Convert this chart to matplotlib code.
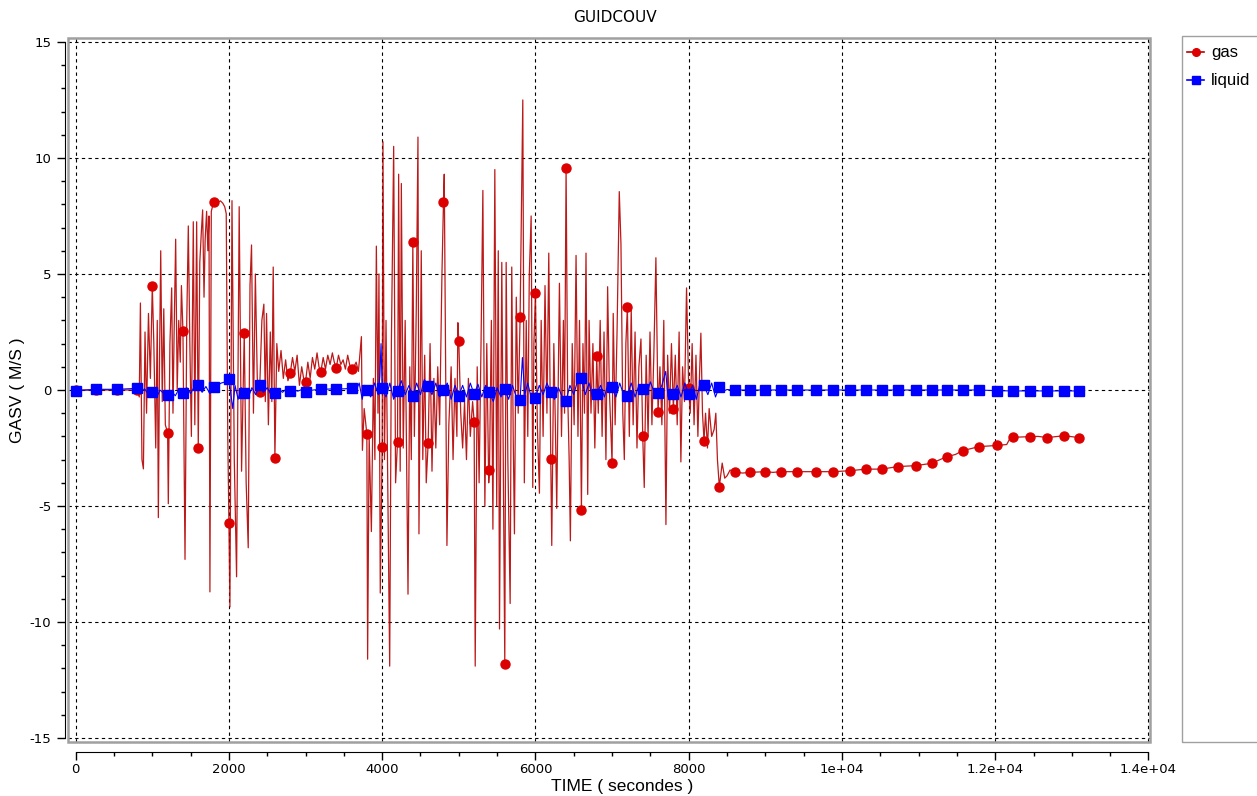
import matplotlib
matplotlib.use("Agg")
import matplotlib.pyplot as plt
from matplotlib.lines import Line2D
from matplotlib.patches import Rectangle
from matplotlib.ticker import MultipleLocator

plt.rcParams['axes.unicode_minus'] = False

# times (s) where the symbols are drawn on both curves
mark_t = [0, 270, 540, 800, 1000, 1200, 1400, 1600, 1800, 2000, 2200, 2400,
          2600, 2800, 3000, 3200, 3400, 3600, 3800, 4000, 4200, 4400, 4600,
          4800, 5000, 5200, 5400, 5600, 5800, 6000, 6200, 6400, 6600, 6800,
          7000, 7200, 7400, 7600, 7800, 8000, 8200, 8400, 8600, 8800, 9000,
          9200, 9410, 9660, 9880, 10100, 10310, 10520, 10730, 10960, 11170,
          11370, 11580, 11790, 12020, 12230, 12450, 12680, 12900, 13090]

# gas velocity (M/S)
gas_t = [0, 270, 540, 800, 830, 845, 865, 884, 905, 925, 950, 975, 1000, 1020,
         1045, 1065, 1079, 1095, 1110, 1130, 1150, 1170, 1200, 1209, 1230, 1253,
         1270, 1285, 1305, 1325, 1345, 1365, 1380, 1400, 1427, 1450, 1470, 1490,
         1510, 1535, 1555, 1579, 1600, 1620, 1640, 1657, 1675, 1690, 1709, 1725,
         1740, 1752, 1770, 1785, 1800, 1830, 1860, 1890, 1920, 1945, 1965, 1985,
         2000, 2013, 2040, 2070, 2100, 2134, 2165, 2200, 2225, 2252, 2275, 2295,
         2320, 2345, 2370, 2400, 2430, 2456, 2475, 2491, 2515, 2540, 2560, 2578,
         2600, 2625, 2650, 2680, 2710, 2740, 2770, 2800, 2830, 2860, 2890, 2920,
         2950, 2975, 3000, 3030, 3060, 3090, 3120, 3150, 3175, 3200, 3230, 3260,
         3290, 3320, 3350, 3375, 3400, 3430, 3460, 3490, 3520, 3550, 3575, 3600,
         3630, 3660, 3690, 3729, 3742, 3765, 3800, 3810, 3830, 3859, 3885, 3905,
         3924, 3945, 3958, 3975, 4000, 4010, 4030, 4050, 4075, 4098, 4120, 4150,
         4175, 4200, 4215, 4235, 4250, 4275, 4300, 4337, 4360, 4380, 4400, 4420,
         4445, 4467, 4480, 4510, 4530, 4555, 4575, 4600, 4625, 4650, 4675, 4700,
         4725, 4750, 4780, 4800, 4810, 4845, 4870, 4900, 4925, 4950, 4975, 4988,
         5000, 5025, 5050, 5075, 5100, 5125, 5150, 5180, 5200, 5214, 5240, 5265,
         5290, 5314, 5340, 5365, 5390, 5400, 5425, 5445, 5470, 5495, 5515, 5531,
         5561, 5580, 5600, 5618, 5640, 5670, 5691, 5710, 5726, 5750, 5775, 5800,
         5835, 5855, 5880, 5900, 5920, 5944, 5965, 5980, 6000, 6025, 6052, 6075,
         6100, 6125, 6150, 6174, 6200, 6213, 6240, 6260, 6278, 6300, 6313, 6340,
         6365, 6380, 6400, 6420, 6440, 6456, 6480, 6505, 6530, 6555, 6575, 6600,
         6620, 6640, 6660, 6682, 6700, 6725, 6750, 6775, 6800, 6820, 6845, 6870,
         6895, 6920, 6942, 6965, 7000, 7015, 7040, 7065, 7094, 7116, 7140, 7160,
         7180, 7200, 7225, 7250, 7275, 7300, 7325, 7350, 7377, 7400, 7420, 7445,
         7470, 7495, 7520, 7545, 7572, 7600, 7625, 7650, 7675, 7703, 7725, 7750,
         7775, 7800, 7825, 7850, 7875, 7898, 7920, 7945, 7972, 8000, 8020, 8045,
         8070, 8095, 8120, 8140, 8159, 8180, 8200, 8220, 8245, 8267, 8300, 8332,
         8354, 8375, 8400, 8437, 8470, 8500, 8540, 8600, 8700, 8800, 9000, 9100,
         9200, 9410, 9660, 9880, 10100, 10310, 10520, 10730, 10960, 11170, 11370,
         11480, 11580, 11790, 12020, 12150, 12190, 12230, 12450, 12560, 12680,
         12900, 13090]
gas_v = [0.0, 0.0, 0.0, 0.0, -0.3, 3.75, -3.0, -3.4, 2.5, -1.0, 3.3, 0.5, 4.5, 2.0,
         -2.5, 3.0, -5.5, 1.5, 6.0, -0.5, 3.5, -1.5, -1.84, -4.9, 2.0, 4.4,
         -1.0, 2.5, 6.5, 0.0, 3.0, 1.2, 4.5, 2.55, -7.3, 3.0, 7.07, 2.0,
         -2.0, 7.25, -1.5, 7.25, -2.49, 5.5, 6.8, 7.76, 4.0, 6.5, 7.7, 6.0,
         7.5, -8.7, 7.7, 7.9, 8.1, 8.05, 8.1, 8.15, 8.05, 7.9, 7.6, -2.0,
         -5.72, -9.35, 8.16, -3.0, -8.05, 7.9, -3.5, 2.47, -4.0, -6.8, 4.5, 6.25,
         -1.0, 5.0, 0.5, -0.1, 3.0, 3.7, -0.5, 3.3, -1.5, 2.5, -0.5, 5.3,
         -2.92, 2.0, 0.8, 1.7, 0.5, 1.3, 0.4, 0.72, 1.4, 0.8, 1.5, 0.2,
         1.0, 0.5, 0.35, 1.2, 0.5, 1.4, 0.9, 1.6, 1.0, 0.79, 1.4, 0.9,
         1.5, 1.1, 1.6, 1.2, 0.95, 1.5, 1.1, 1.3, 0.9, 1.5, 1.1, 0.9,
         1.0, 1.2, 0.8, 2.3, -2.6, -0.8, -1.9, -11.6, -2.0, -6.1, 0.5, -3.0,
         6.2, -1.0, 5.0, -8.75, -2.44, 10.7, -3.0, 3.0, -5.0, -11.9, 2.0, 10.5,
         -4.0, -2.25, 9.3, -3.5, 8.9, -2.5, 3.0, -8.8, 1.0, -3.0, 6.38, -2.0,
         3.5, 10.9, -6.2, 6.0, -3.0, 1.5, -4.0, -2.29, 2.0, -3.5, 0.5, -2.5,
         1.0, -1.5, 5.0, 8.1, 9.3, -6.7, -1.5, 1.0, -3.0, 0.5, -2.0, 2.9,
         2.1, -1.0, -2.5, -0.5, -3.0, 0.5, -2.0, -0.5, -1.36, -11.9, 1.0, -4.0,
         2.0, 8.6, -5.0, 2.0, -4.0, -3.45, 3.0, -6.0, 9.5, -5.0, 6.0, -10.3,
         5.5, -3.0, -11.8, 5.5, -3.0, -9.2, 5.3, -2.0, -6.2, 4.0, -1.0, 3.15,
         12.5, -4.0, 3.0, -2.0, 5.0, 7.5, -4.2, 2.0, 4.17, -1.5, -4.45, 3.0,
         -2.0, 4.5, -1.0, 5.9, -2.96, -6.7, 2.0, -1.5, -5.1, 1.0, 4.6, -2.0,
         3.0, -1.0, 9.58, 0.0, -3.0, -6.5, 2.0, -1.5, 5.8, -2.0, 3.0, -5.17,
         2.0, -1.0, 5.9, -4.5, 3.0, -1.0, 2.0, -2.5, 1.47, -1.0, 3.0, -2.0,
         2.5, -3.0, 4.45, 0.0, -3.16, 3.3, -1.5, 2.5, 8.55, 6.3, -1.0, -3.0,
         2.0, 3.57, -2.0, 3.5, -1.5, 2.5, -2.5, 1.0, 2.2, -1.97, -4.2, 1.5,
         -2.0, 2.5, -1.5, 1.5, 5.7, -0.95, 1.0, -1.5, 3.0, -5.8, 1.5, -1.0,
         2.0, -0.83, 1.5, -1.5, 2.5, -3.1, 1.0, -0.5, 4.4, 0.1, -1.0, 2.0,
         -1.5, 1.5, -2.0, 0.5, 2.45, -1.0, -2.18, -1.0, -2.5, -0.8, -2.0, -1.7,
         -1.0, -3.0, -4.17, -3.15, -3.8, -3.7, -3.45, -3.52, -3.58, -3.55, -3.52, -3.55,
         -3.52, -3.52, -3.52, -3.52, -3.48, -3.41, -3.41, -3.30, -3.26, -3.16, -2.87,
         -2.78, -2.61, -2.44, -2.39, -2.35, -2.1, -2.04, -2.01, -2.0, -2.05,
         -1.97, -2.05]

# liquid velocity (M/S)
liq_t = [0, 270, 540, 800, 850, 900, 950, 1000, 1060, 1100, 1150, 1200, 1250,
         1300, 1350, 1400, 1450, 1500, 1550, 1600, 1650, 1700, 1750, 1800, 1850,
         1900, 1950, 2000, 2030, 2050, 2080, 2120, 2160, 2200, 2250, 2300, 2350,
         2400, 2450, 2500, 2550, 2600, 2650, 2700, 2750, 2800, 2850, 2900, 2950,
         3000, 3100, 3200, 3300, 3400, 3500, 3600, 3650, 3700, 3740, 3770, 3800,
         3850, 3900, 3950, 3970, 3985, 4000, 4050, 4100, 4150, 4200, 4250, 4300,
         4350, 4400, 4450, 4500, 4550, 4600, 4650, 4700, 4750, 4800, 4850, 4900,
         4950, 5000, 5050, 5100, 5150, 5200, 5250, 5300, 5350, 5400, 5450, 5500,
         5550, 5600, 5650, 5700, 5750, 5800, 5830, 5860, 5900, 5950, 6000, 6050,
         6100, 6150, 6200, 6250, 6300, 6350, 6400, 6450, 6500, 6550, 6600, 6650,
         6700, 6750, 6800, 6850, 6900, 6950, 7000, 7050, 7100, 7150, 7200, 7250,
         7300, 7350, 7400, 7450, 7500, 7550, 7600, 7650, 7700, 7730, 7800, 7850,
         7900, 7950, 8000, 8050, 8100, 8150, 8200, 8250, 8300, 8350, 8400, 8450,
         8500, 8600, 8800, 9000, 9200, 9410, 9660, 9880, 10100, 10310, 10520,
         10730, 10960, 11170, 11370, 11580, 11790, 12020, 12230, 12450, 12680,
         12900, 13090]
liq_v = [-0.03, 0.03, 0.03, 0.07, -0.1, 0.05, -0.2, -0.07, -0.3, 0.0, -0.15, -0.22, -0.05,
         -0.25, 0.05, -0.11, 0.1, -0.15, 0.15, 0.22, -0.1, 0.15, -0.15, 0.14, 0.2,
         0.3, 0.35, 0.47, -0.3, -0.8, 0.2, -0.4, 0.1, -0.14, -0.35, 0.1, -0.2,
         0.22, -0.1, 0.1, -0.2, -0.11, 0.05, -0.1, 0.05, -0.03, 0.0, -0.05, 0.02,
         -0.07, 0.0, 0.03, 0.04, 0.06, 0.05, 0.07, -0.1, 0.3, -0.4, 0.2, 0.0,
         -0.3, 0.3, -0.2, 0.6, 2.0, 0.07, -0.3, 0.3, -0.4, -0.03, 0.4, -0.2,
         0.2, -0.28, 0.3, -0.2, 0.45, 0.19, -0.2, 0.3, -0.3, 0.02, 0.3, -0.4,
         0.2, -0.24, 0.2, -0.3, 0.3, -0.19, 0.25, -0.3, 0.2, -0.1, -0.5, 0.1,
         -0.3, 0.03, -0.4, 0.2, -0.3, -0.43, 1.4, -0.2, 0.3, -0.4, -0.33, 0.2,
         -0.2, 0.3, -0.07, -0.4, 0.1, -0.3, -0.46, 0.2, -0.2, 0.4, 0.5, -0.2,
         0.3, -0.4, -0.19, 0.2, -0.3, 0.3, 0.11, -0.3, 0.3, -0.2, -0.24, 0.3,
         -0.3, 0.2, 0.03, -0.2, 0.35, -0.1, -0.11, 0.2, 0.8, -0.3, -0.19, 0.2,
         -0.3, 0.3, -0.19, 0.2, -0.4, 0.3, 0.2, -0.2, 0.3, -0.3, 0.15, -0.05,
         0.02, 0.0, 0.0, 0.0, 0.0, 0.0, 0.0, 0.0, 0.0, 0.0, 0.0,
         0.0, 0.0, 0.0, 0.0, 0.0, 0.0, -0.03, -0.04, -0.04, -0.04,
         -0.04, -0.04]

xticks = [0, 2000, 4000, 6000, 8000, 10000, 12000, 14000]
xtick_labels = ['0', '2000', '4000', '6000', '8000', '1e+04', '1.2e+04', '1.4e+04']
yticks = [-15, -10, -5, 0, 5, 10, 15]
series_names = ['gas', 'liquid']

W, H = 1257, 796
fig = plt.figure(figsize=(W / 100, H / 100), dpi=100)
ax = fig.add_axes([68 / W, 1 - 742 / H, (1150 - 68) / W, (742 - 38) / H])

gas_marks = [i for i, t in enumerate(gas_t) if t in mark_t]
liq_marks = [i for i, t in enumerate(liq_t) if t in mark_t]

gas_line = '#b50000'
gas_dot = '#dd0000'
liq_color = '#0000ff'
ax.plot(gas_t, gas_v, color=gas_line, lw=0.9, alpha=0.9, zorder=3)
ax.plot([gas_t[i] for i in gas_marks], [gas_v[i] for i in gas_marks],
        ls='none', marker='o', ms=6.5, mfc=gas_dot, mec=gas_dot, zorder=3)
ax.plot(liq_t, liq_v, color=liq_color, lw=0.8, marker='s', ms=7.5,
        markevery=liq_marks, mfc=liq_color, mec=liq_color, zorder=4)

ax.set_xlim(-100, 14020)
ax.set_ylim(-15.17, 15.17)
ax.set_xticks(xticks)
ax.set_xticklabels(xtick_labels)
ax.set_yticks(yticks)
ax.set_yticklabels([str(v) for v in yticks])
ax.xaxis.set_minor_locator(MultipleLocator(500))
ax.yaxis.set_minor_locator(MultipleLocator(1))
ax.grid(True, which='major', color='black', linestyle=(0, (3, 3)), lw=0.8)

# axis lines sit just outside the grey frame
for side in ('top', 'right'):
    ax.spines[side].set_visible(False)
ax.spines['left'].set_position(('outward', 2))
ax.spines['left'].set_bounds(-15, 15)
ax.spines['bottom'].set_position(('outward', 7))
ax.spines['bottom'].set_bounds(0, 14000)
ax.tick_params(which='major', length=6, width=1, labelsize=9.5)
ax.tick_params(axis='x', which='major', pad=2)
ax.tick_params(axis='y', which='major', pad=4)
ax.tick_params(which='minor', length=3, width=1)
ax.add_patch(Rectangle((0, 0), 1, 1, transform=ax.transAxes, fill=False,
                       edgecolor='#a0a0a0', lw=1.8, clip_on=False, zorder=5))

fig.text(615 / W, 1 - 18 / H, 'GUIDCOUV', ha='center', va='center',
         fontsize=11, family='DejaVu Sans')
fig.text(622 / W, 1 - 787 / H, 'TIME ( secondes )', ha='center', va='center',
         fontsize=12.5, family='Liberation Sans')
fig.text(18 / W, 1 - 390 / H, 'GASV ( M/S )', ha='center', va='center',
         rotation=90, fontsize=12.5, family='Liberation Sans')

# legend box runs the full height of the plot
fig.patches.append(Rectangle((1182 / W, 1 - 742 / H), 90 / W, (742 - 36) / H,
                             transform=fig.transFigure, fill=False,
                             edgecolor='#a0a0a0', lw=1))
legend_styles = [(gas_line, 'o', gas_dot, 5.5), (liq_color, 's', liq_color, 5.5)]
for k, (name, (lc, mk, mc, ms)) in enumerate(zip(series_names, legend_styles)):
    y = 1 - (52 + 28 * k) / H
    fig.add_artist(Line2D([1187 / W, 1204 / W], [y, y], transform=fig.transFigure,
                          color=lc, lw=1.2))
    fig.add_artist(Line2D([1195.5 / W], [y], transform=fig.transFigure,
                          marker=mk, ms=ms, mfc=mc, mec=mc, ls='none'))
    fig.text(1211 / W, y, name, ha='left', va='center', fontsize=12,
             family='Liberation Sans')

fig.savefig('out.png', dpi=100)
